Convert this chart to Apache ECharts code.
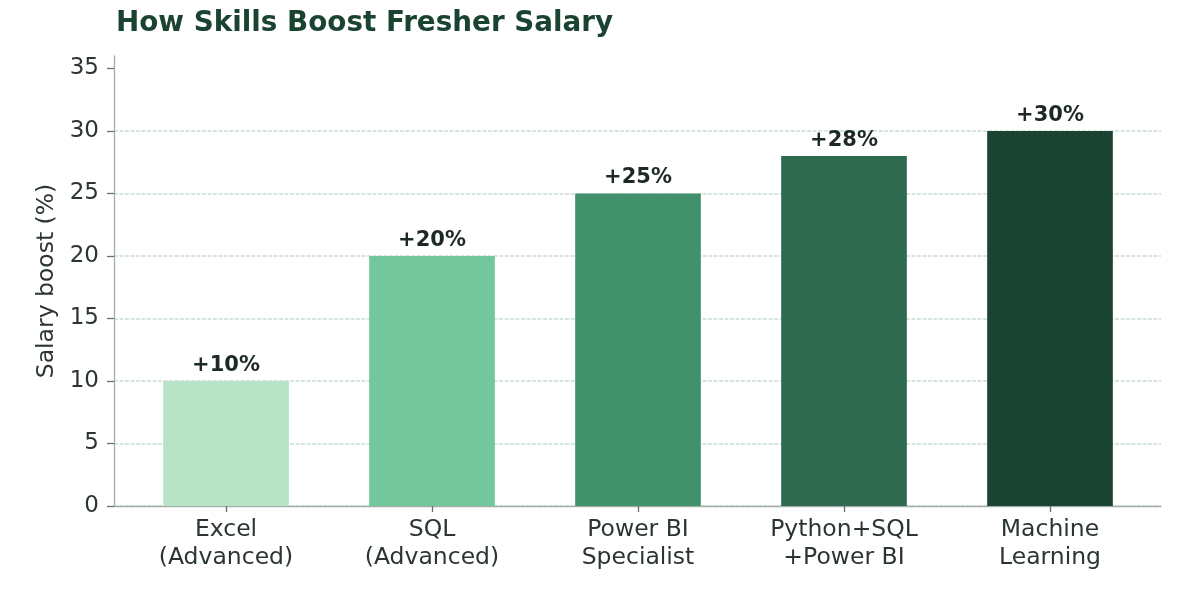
<!DOCTYPE html>
<html>
<head>
<meta charset="utf-8">
<script src="https://cdn.jsdelivr.net/npm/echarts@6/dist/echarts.min.js"></script>
<style>
  html, body { margin: 0; padding: 0; background: #ffffff; }
  #chart { width: 1193px; height: 591px; }
</style>
</head>
<body>
<div id="chart"></div>
<script>
const categories = ['Excel\n(Advanced)', 'SQL\n(Advanced)', 'Power BI\nSpecialist', 'Python+SQL\n+Power BI', 'Machine\nLearning'];
const boostValues = [10, 20, 25, 28, 30];
const barColors = ['#b7e4c7', '#74c69d', '#40916c', '#2d6a4f', '#1b4332'];
const yTickValues = [0, 5, 10, 15, 20, 25, 30, 35];

const FONT = '"DejaVu Sans", sans-serif';
const chart = echarts.init(document.getElementById('chart'), null, { renderer: 'canvas' });

chart.setOption({
  backgroundColor: '#ffffff',
  animation: false,
  title: {
    text: 'How Skills Boost Fresher Salary',
    left: 111, top: 5,
    textStyle: { fontFamily: FONT, fontSize: 27.8, fontWeight: 'bold', color: '#1b4332' }
  },
  grid: [
    { left: 114, right: 32, top: 56, bottom: 85, containLabel: false },
    { left: 123, right: 40, top: 56, bottom: 85, containLabel: false }
  ],
  xAxis: [
    {
      type: 'value', gridIndex: 0, min: 0, max: 1,
      axisLine: { show: true, lineStyle: { color: '#a3aea8', width: 1.3 } },
      axisTick: { show: false }, axisLabel: { show: false }, splitLine: { show: false }
    },
    {
      type: 'category', gridIndex: 1, data: categories,
      axisLine: { show: false },
      axisTick: { show: true, alignWithLabel: true, length: 6, lineStyle: { color: '#66706b', width: 1.3 } },
      axisLabel: { fontFamily: FONT, fontSize: 23.5, color: '#2b3630', margin: 10, lineHeight: 28 },
      splitLine: { show: false }
    }
  ],
  yAxis: [
    {
      type: 'value', gridIndex: 0, min: 0, max: 36, interval: 5,
      name: 'Salary boost (%)', nameLocation: 'middle', nameGap: 55, nameRotate: 90,
      nameTextStyle: { fontFamily: FONT, fontSize: 23.5, color: '#2b3630' },
      axisLine: { show: true, lineStyle: { color: '#a3aea8', width: 1.3 } },
      axisTick: { show: true, length: 7, customValues: yTickValues, lineStyle: { color: '#66706b', width: 1.3 } },
      axisLabel: { fontFamily: FONT, fontSize: 23, color: '#2b3630', margin: 15, customValues: yTickValues },
      splitLine: { show: true, showMaxLine: false, lineStyle: { color: '#c8e0d1', width: 1.6, type: [4, 1.5] } }
    },
    {
      type: 'value', gridIndex: 1, min: 0, max: 36, interval: 5, show: false,
      splitLine: { show: false }
    }
  ],
  series: [{
    type: 'bar',
    xAxisIndex: 1, yAxisIndex: 1,
    barWidth: '61%',
    data: boostValues.map((v, i) => ({ value: v, itemStyle: { color: barColors[i] } })),
    label: {
      show: true, position: 'top', distance: 5,
      formatter: p => '+' + p.value + '%',
      fontFamily: FONT, fontSize: 21, fontWeight: 'bold', color: '#1c2a23'
    },
    z: 3
  }]
});
</script>
</body>
</html>
